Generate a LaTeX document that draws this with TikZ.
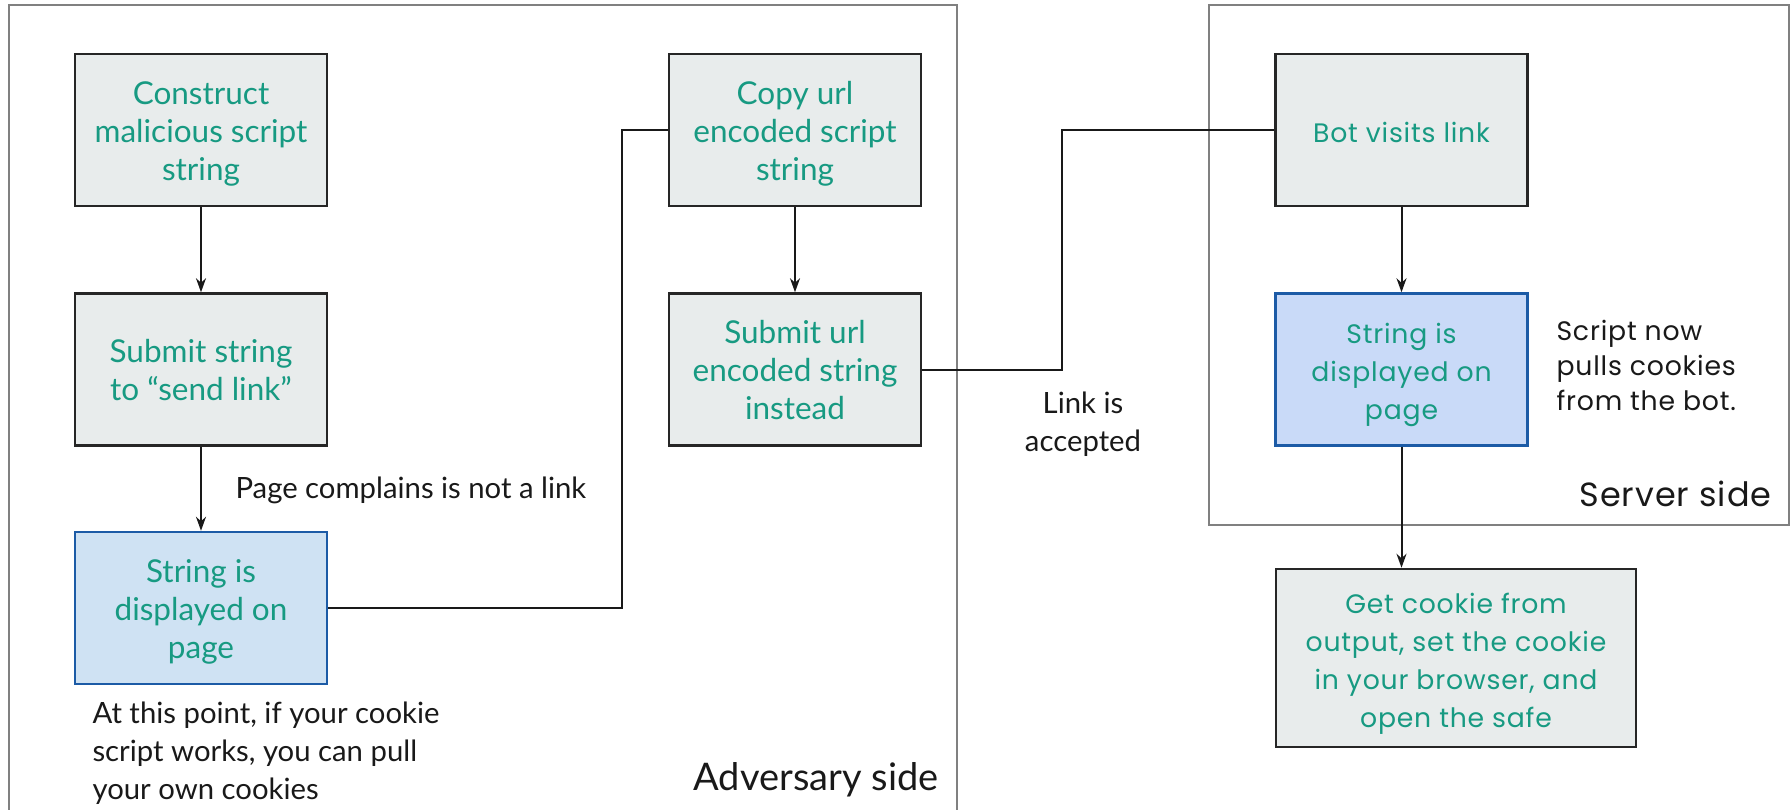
\documentclass[tikz,border=0pt]{standalone}
\usepackage{fontspec}
\setmainfont{Lato}
\newfontfamily\widefont{Poppins}[LetterSpace=3]
\usetikzlibrary{calc,arrows.meta}
\definecolor{stepgreen}{HTML}{179A82}
\definecolor{boxgray}{HTML}{E8ECEC}
\definecolor{paleblue}{HTML}{CFE2F3}
\definecolor{paleblue2}{HTML}{C9DAF8}
\definecolor{edgeblue}{HTML}{1C5BA6}
% fixed top and bottom of the text block in a box
\newcommand{\steptext}[1]{\rule{0pt}{34pt}#1\rule[-10pt]{0pt}{10pt}}

\begin{document}
\begin{tikzpicture}[x=1pt,y=-1pt,>={Stealth[length=14pt,width=10pt]},
    stepbox/.style={draw=black!85,line width=2.5pt,fill=boxgray,text=stepgreen,align=center,
      minimum width=252pt,minimum height=152pt,inner sep=0pt},
    shownbox/.style={stepbox,fill=paleblue,draw=edgeblue},
    narrow/.style={font=\fontsize{31.5}{38}\selectfont},
    notefont/.style={font=\fontsize{29.3}{38}\selectfont,text=black!90},
    wide/.style={font=\widefont\fontsize{26.7}{38}\selectfont},
    frame/.style={draw=black!50,line width=2pt},
    link/.style={draw=black!90,line width=2pt}]
                \useasboundingbox (0,0) rectangle (1791,809);
                \clip (0,0) rectangle (1791,809);
                % the two sides
                \draw[frame] (9,5) rectangle (957,830);
                \draw[frame] (1209,5) rectangle (1789,525);
                \node[notefont,anchor=base east] (advlabel) at (942,790) {\fontsize{38}{40}\selectfont Adversary side};
                \node[wide,anchor=base east,text=black!90] (srvlabel) at (1775,506) {\fontsize{33.5}{38}\selectfont Server side};
                % adversary steps
                \node[stepbox,narrow] (construct) at (201,130) {\steptext{Construct\\malicious script\\string}};
                \node[stepbox,narrow] (submit) at (201,369.5) {\steptext{Submit string\\to “send link”}};
                \node[shownbox,narrow] (shown) at (201,608) {\steptext{String is\\displayed on\\page}};
                \node[stepbox,narrow] (copyurl) at (795,130) {\steptext{Copy url\\encoded script\\string}};
                \node[stepbox,narrow] (submiturl) at (795,369.5) {\steptext{Submit url\\encoded string\\instead}};
                % server steps
                \node[stepbox,wide] (bot) at (1401.5,130) {\steptext{Bot visits link}};
                \node[shownbox,wide,fill=paleblue2] (shownsrv) at (1401.5,369.5) {\steptext{String is\\displayed on\\page}};
                \node[stepbox,wide,minimum width=360pt,minimum height=178pt] (getcookie) at (1456,658)
                    {\steptext{Get cookie from\\output, set the cookie\\in your browser, and\\open the safe}};
                \coordinate (bendA) at (622,400);
                \coordinate (bendB) at (1062,400);
                \draw[link,->] (construct) -- (submit);
                \draw[link,->] (submit) -- (shown);
                \draw[link] (shown.east) -- (shown.east -| bendA) |- (copyurl.west);
                \draw[link,->] (copyurl) -- (submiturl);
                \draw[link] (submiturl.east) -- (submiturl.east -| bendB) |- (bot.west);
                \draw[link,->] (bot) -- (shownsrv);
                \draw[link,->] (shownsrv.south) -- (shownsrv.south |- getcookie.north);
                % notes
                \node[notefont,anchor=west] (complains) at (232,490) {Page complains is not a link};
                \node[notefont,align=center] (accepted) at (1083,424) {Link is\\accepted};
                \node[wide,font=\widefont\fontsize{26.7}{35}\selectfont,anchor=west,align=left,text=black!90] (pulls) at (1553,365)
                    {Script now\\pulls cookies\\from the bot.};
                \node[notefont,anchor=north west,align=left] (note) at (89,698)
                    {At this point, if your cookie\\script works, you can pull\\your own cookies};
            \end{tikzpicture}
\end{document}
